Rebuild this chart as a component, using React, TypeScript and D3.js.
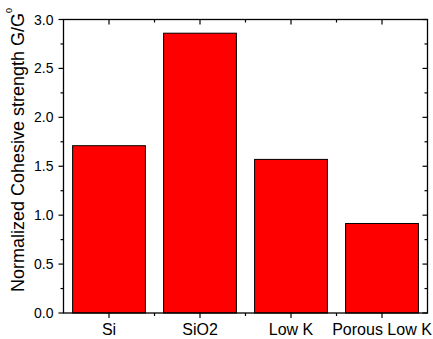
import * as d3 from 'd3'

const categories = ['Si', 'SiO2', 'Low K', 'Porous Low K']
const strength = [1.71, 2.86, 1.57, 0.915]
const majorTicks = [0, 0.5, 1.0, 1.5, 2.0, 2.5, 3.0]
const minorTicks = [0.25, 0.75, 1.25, 1.75, 2.25, 2.75]

const W = 433, H = 339
const margin = { top: 19.5, right: 5.5, bottom: 26, left: 63.5 }

function App() {
  const x = d3.scaleBand().domain(categories).range([margin.left, W - margin.right]).paddingInner(0).paddingOuter(0)
  const y = d3.scaleLinear().domain([0, 3]).range([H - margin.bottom, margin.top])
  const barW = x.bandwidth() * 0.8
  const x0 = margin.left, x1 = W - margin.right, y0 = H - margin.bottom, y1 = margin.top
  const bounds = categories.slice(1).map(c => x(c)!)
  const font = 'Liberation Sans, Arial, sans-serif'

  return (
    <svg width={W} height={H} style={{ position: 'absolute', left: 0, top: 0 }} fontFamily={font}>
      <rect width={W} height={H} fill="#fff" />
      {categories.map((c, i) => (
        <rect key={c} x={x(c)! + (x.bandwidth() - barW) / 2} y={y(strength[i])}
          width={barW} height={y(0) - y(strength[i])} fill="#ff0000" stroke="#000" strokeWidth={1} />
      ))}
      {/* box */}
      <rect x={x0} y={y1} width={x1 - x0} height={y0 - y1} fill="none" stroke="#000" strokeWidth={1.3} />
      {/* left & right ticks */}
      {majorTicks.map(t => (
        <g key={'M' + t}>
          <line x1={x0 - 5} x2={x0} y1={y(t)} y2={y(t)} stroke="#000" strokeWidth={1.2} />
          <line x1={x1 - 5} x2={x1} y1={y(t)} y2={y(t)} stroke="#000" strokeWidth={1.2} />
          <text x={x0 - 10} y={y(t)} dy="0.36em" textAnchor="end" fontSize={14}>{d3.format('.1f')(t)}</text>
        </g>
      ))}
      {minorTicks.map(t => (
        <g key={'m' + t}>
          <line x1={x0 - 3} x2={x0} y1={y(t)} y2={y(t)} stroke="#000" strokeWidth={1.2} />
          <line x1={x1 - 3} x2={x1} y1={y(t)} y2={y(t)} stroke="#000" strokeWidth={1.2} />
        </g>
      ))}
      {/* top & bottom ticks */}
      {categories.map(c => {
        const cx = x(c)! + x.bandwidth() / 2
        return (
          <g key={'x' + c}>
            <line x1={cx} x2={cx} y1={y0} y2={y0 + 5} stroke="#000" strokeWidth={1.2} />
            <line x1={cx} x2={cx} y1={y1} y2={y1 + 5} stroke="#000" strokeWidth={1.2} />
            <text x={cx} y={335} textAnchor="middle" fontSize={16}>{c}</text>
          </g>
        )
      })}
      {bounds.map(bx => (
        <g key={'b' + bx}>
          <line x1={bx} x2={bx} y1={y0} y2={y0 + 3} stroke="#000" strokeWidth={1.2} />
          <line x1={bx} x2={bx} y1={y1} y2={y1 + 3} stroke="#000" strokeWidth={1.2} />
        </g>
      ))}
      <text transform="translate(24,292) rotate(-90)" fontSize={18}>
        Normalized Cohesive strength G/G<tspan fontSize={9} dy={-12}>0</tspan>
      </text>
    </svg>
  )
}

export default App
